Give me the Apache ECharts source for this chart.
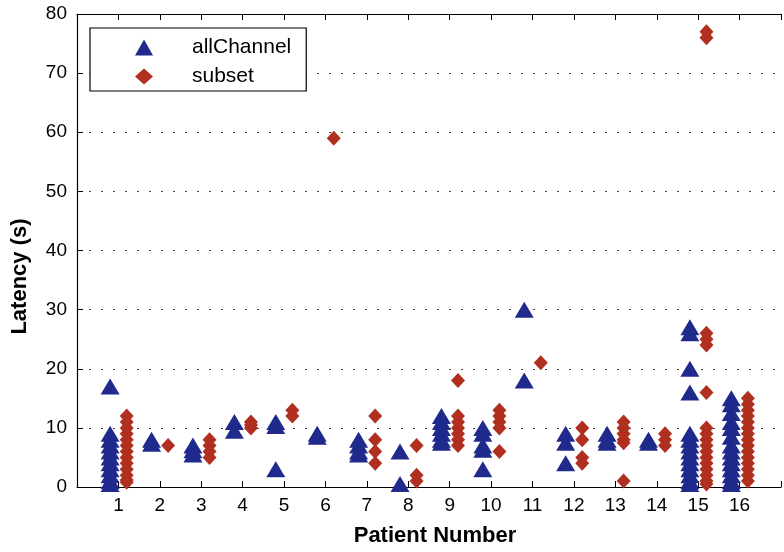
<!DOCTYPE html>
<html><head><meta charset="utf-8">
<script src="https://cdn.jsdelivr.net/npm/echarts@6/dist/echarts.min.js"></script>
<style>html,body{margin:0;padding:0;background:#fff}#c{width:784px;height:552px}</style>
</head><body><div id="c"></div>
<script>
// Patient numbers (x categories)
const patients = [1,2,3,4,5,6,7,8,9,10,11,12,13,14,15,16];
// Latency values (s) per patient, allChannel detector
const allChannel = [
  [17, 9, 8, 7, 6, 5, 4, 3, 2, 1, 0.5],
  [8, 7.3],
  [7, 6.2, 5.5],
  [11, 9.5],
  [11, 10.3, 3],
  [9, 8.5],
  [8, 7, 6, 5.5],
  [6, 0.5],
  [12, 11, 10, 9, 8, 7.5],
  [10, 9, 7, 6.3, 3],
  [30, 18],
  [9, 7.5, 4],
  [9, 8, 7.5],
  [8, 7.5],
  [27, 26, 20, 16, 9, 8, 7, 6, 5, 4, 3, 2, 1, 0.5],
  [15, 14, 12.5, 11, 10, 8.5, 7, 6, 5, 4, 3, 2, 1, 0.5]
];
// Latency values (s) per patient, subset detector
const subset = [
  [12, 11, 10, 9, 8, 7, 6, 5, 4, 3, 2, 1.2, 0.8],
  [7],
  [8, 7, 6, 5],
  [11, 10.5, 10],
  [13, 12],
  [59],
  [12, 8, 6, 4],
  [7, 2, 1],
  [18, 12, 11, 10, 9, 8, 7],
  [13, 12, 11, 10, 6],
  [21],
  [10, 8, 5, 4],
  [11, 10, 9, 8, 7.5, 1],
  [9, 8, 7],
  [77, 76, 26, 25, 24, 16, 10, 9, 8, 7, 6, 5, 4, 3, 2, 1, 0.5],
  [15, 14, 13, 12, 11, 10, 9, 8, 7, 6, 5, 4, 3, 2, 1]
];
const yTicks = [0, 10, 20, 30, 40, 50, 60, 70, 80];
const seriesNames = ['allChannel', 'subset'];

const OFFSET = 0.2;
const toPoints = (arr, off) => arr.flatMap((vals, i) => vals.map(v => [patients[i] + off, v]));

const FONT = "'Liberation Sans', Arial, Helvetica, sans-serif";
const chart = echarts.init(document.getElementById('c'), null, {renderer: 'canvas'});
chart.setOption({
  animation: false,
  backgroundColor: '#fff',
  grid: {left: 77, right: -7, top: 14, bottom: 61},
  legend: {
    orient: 'vertical',
    left: 90, top: 28,
    padding: [9, 15, 4, 45],
    itemGap: 8,
    itemWidth: 18, itemHeight: 16,
    borderColor: '#000', borderWidth: 1.2,
    backgroundColor: '#fff',
    textStyle: {fontFamily: FONT, fontSize: 21, color: '#000', padding: [0, 0, 0, 34]},
    data: [
      {name: seriesNames[0], icon: 'triangle'},
      {name: seriesNames[1], icon: 'diamond'}
    ]
  },
  xAxis: [{
    type: 'value', min: 0, max: 17, interval: 1,
    position: 'bottom',
    name: 'Patient Number', nameLocation: 'middle', nameGap: 38,
    nameTextStyle: {fontFamily: FONT, fontSize: 22, fontWeight: 'bold', color: '#000', padding: [0, 0, 0, 12]},
    axisLine: {lineStyle: {color: '#000', width: 1.2}},
    axisTick: {inside: true, length: 6, lineStyle: {color: '#000'}},
    axisLabel: {fontFamily: FONT, fontSize: 19, color: '#000', margin: 9,
      formatter: v => (patients.indexOf(v) >= 0 ? String(v) : '')},
    splitLine: {show: false}
  }, {
    type: 'value', min: 0, max: 17, interval: 1,
    position: 'top',
    axisLine: {lineStyle: {color: '#000', width: 1.2}},
    axisTick: {inside: true, length: 6, lineStyle: {color: '#000'}},
    axisLabel: {show: false},
    splitLine: {show: false}
  }],
  yAxis: {
    type: 'value', min: yTicks[0], max: yTicks[yTicks.length - 1], interval: 10,
    name: 'Latency (s)', nameLocation: 'middle', nameGap: 46,
    nameTextStyle: {fontFamily: FONT, fontSize: 22, fontWeight: 'bold', color: '#000', padding: [0, 52, 0, 0]},
    axisLine: {show: true, lineStyle: {color: '#000', width: 1.2}},
    axisTick: {show: true, inside: true, length: 6, lineStyle: {color: '#000'}},
    axisLabel: {fontFamily: FONT, fontSize: 19, color: '#000', margin: 10},
    splitLine: {show: true, lineStyle: {color: '#444', width: 1, type: [2, 10]}}
  },
  series: [{
    name: seriesNames[0], type: 'scatter', symbol: 'triangle', symbolSize: [19, 16],
    itemStyle: {color: '#1f2a8c', opacity: 1},
    data: toPoints(allChannel, -OFFSET)
  }, {
    name: seriesNames[1], type: 'scatter', symbol: 'diamond', symbolSize: [14, 15],
    itemStyle: {color: '#b02f1f', opacity: 1},
    data: toPoints(subset, OFFSET)
  }]
});
</script>
</body></html>
